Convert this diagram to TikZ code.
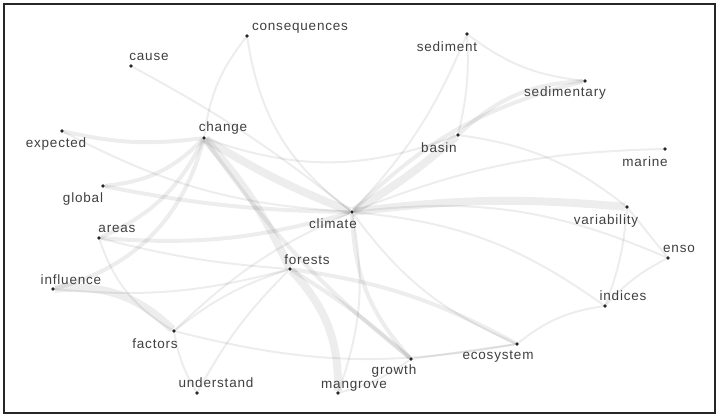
\documentclass[tikz,border=0pt]{standalone}
\usepackage{fontspec}
\setmainfont[LetterSpace=6]{Liberation Sans}
\definecolor{txt}{HTML}{404040}
\begin{document}
\begin{tikzpicture}[x=1pt,y=-1pt,
  dot/.style={circle,fill=black!85,inner sep=0pt,minimum size=3.6pt},
  lbl/.style={font=\fontsize{13.5}{14}\selectfont,text=txt,inner sep=0pt},
  e/.style={draw=black,opacity=0.07,line width=2pt},
  em/.style={draw=black,opacity=0.07,line width=4pt},
  et/.style={draw=black,opacity=0.07,line width=8pt},
  vbl/.style={bend right=#1},
  vbr/.style={bend left=#1}]
\useasboundingbox (0,0) rectangle (721,419);
\fill[white] (0,0) rectangle (721,419);
% dots
\node[dot] (consequences) at (247,36) {};
\node[dot] (cause) at (131,66) {};
\node[dot] (change) at (204,138) {};
\node[dot] (expected) at (62,131) {};
\node[dot] (global) at (103,186) {};
\node[dot] (areas) at (99,238) {};
\node[dot] (influence) at (53,289) {};
\node[dot] (factors) at (174,331) {};
\node[dot] (understand) at (197,393) {};
\node[dot] (mangrove) at (338,393) {};
\node[dot] (growth) at (411,359) {};
\node[dot] (ecosystem) at (517,344) {};
\node[dot] (forests) at (290,269) {};
\node[dot] (climate) at (352,212) {};
\node[dot] (basin) at (458,135) {};
\node[dot] (sediment) at (467,34) {};
\node[dot] (sedimentary) at (585,81) {};
\node[dot] (marine) at (665,149) {};
\node[dot] (variability) at (627,207) {};
\node[dot] (enso) at (668,258) {};
\node[dot] (indices) at (605,306) {};
% edges
\path[et] (change) to[vbl=5] (climate);
\path[et] (change) to[vbr=8] (forests);
\path[et] (forests) to[vbr=22] (mangrove);
\path[em] (expected) to[vbl=10] (change);
\path[e] (expected) to[vbl=12] (climate);
\path[em] (global) to[vbl=20] (change);
\path[em] (global) to[vbl=5] (climate);
\path[em] (influence) to[vbl=30] (change);
\path[em] (areas) to[vbl=20] (change);
\path[em] (areas) to[vbl=10] (climate);
\path[e] (areas) to[vbl=5] (forests);
\path[et] (influence) to[vbr=25] (factors);
\path[e] (influence) to[vbl=10] (forests);
\path[e] (areas) to[vbl=20] (factors);
\path[e] (factors) to[vbr=10] (forests);
\path[e] (factors) to[vbr=10] (climate);
\path[e] (factors) to[vbl=12] (ecosystem);
\path[e] (understand) to[vbr=8] (forests);
\path[e] (factors) to[vbl=10] (understand);
\path[e] (mangrove) to[vbl=15] (climate);
\path[e] (mangrove) to[vbl=10] (growth);
\path[em] (growth) to[vbr=20] (climate);
\path[e] (growth) to (ecosystem);
\path[em] (change) to[vbl=8] (growth);
\path[em] (forests) to[vbr=5] (growth);
\path[e] (climate) to[vbl=15] (ecosystem);
\path[e] (ecosystem) to[vbr=15] (indices);
\path[em] (forests) to[vbr=10] (ecosystem);
\path[e] (climate) to[vbr=15] (indices);
\path[e] (climate) to[vbr=15] (enso);
\path[et] (climate) to[vbr=6] (variability);
\path[e] (climate) to[vbr=10] (marine);
\path[et] (climate) to[vbl=5] (basin);
\path[em] (climate) to[vbr=15] (sedimentary);
\path[e] (climate) to[vbl=10] (sediment);
\path[e] (basin) to[vbl=8] (sediment);
\path[em] (basin) to[vbr=20] (sedimentary);
\path[e] (sediment) to[vbl=15] (sedimentary);
\path[e] (basin) to[vbr=15] (variability);
\path[e] (change) to[vbl=20] (basin);
\path[e] (variability) to (enso);
\path[e] (variability) to[vbr=8] (indices);
\path[e] (enso) to[vbl=10] (indices);
\path[e] (cause) to[vbr=5] (climate);
\path[e] (consequences) to[vbl=15] (change);
\path[e] (consequences) to[vbl=22] (climate);
% labels
\node[lbl] (t-consequences) at (300,28) {consequences};
\node[lbl] (t-cause) at (149,57) {cause};
\node[lbl] (t-change) at (223,128) {change};
\node[lbl] (t-expected) at (56,144) {expected};
\node[lbl] (t-global) at (83,199) {global};
\node[lbl] (t-areas) at (117,229) {areas};
\node[lbl] (t-influence) at (71,280) {influence};
\node[lbl] (t-factors) at (155,344) {factors};
\node[lbl] (t-understand) at (216,383) {understand};
\node[lbl] (t-mangrove) at (354,386) {mangrove};
\node[lbl] (t-growth) at (394,371) {growth};
\node[lbl] (t-ecosystem) at (498,357) {ecosystem};
\node[lbl] (t-forests) at (307,260) {forests};
\node[lbl] (t-climate) at (333,224) {climate};
\node[lbl] (t-basin) at (439,148) {basin};
\node[lbl] (t-sediment) at (447,47) {sediment};
\node[lbl] (t-sedimentary) at (565,93) {sedimentary};
\node[lbl] (t-marine) at (645,162) {marine};
\node[lbl] (t-variability) at (606,221) {variability};
\node[lbl] (t-enso) at (679,249) {enso};
\node[lbl] (t-indices) at (623,296) {indices};
\draw[black!85,line width=1.3pt] (4,4) rectangle (715,413);
\end{tikzpicture}
\end{document}
